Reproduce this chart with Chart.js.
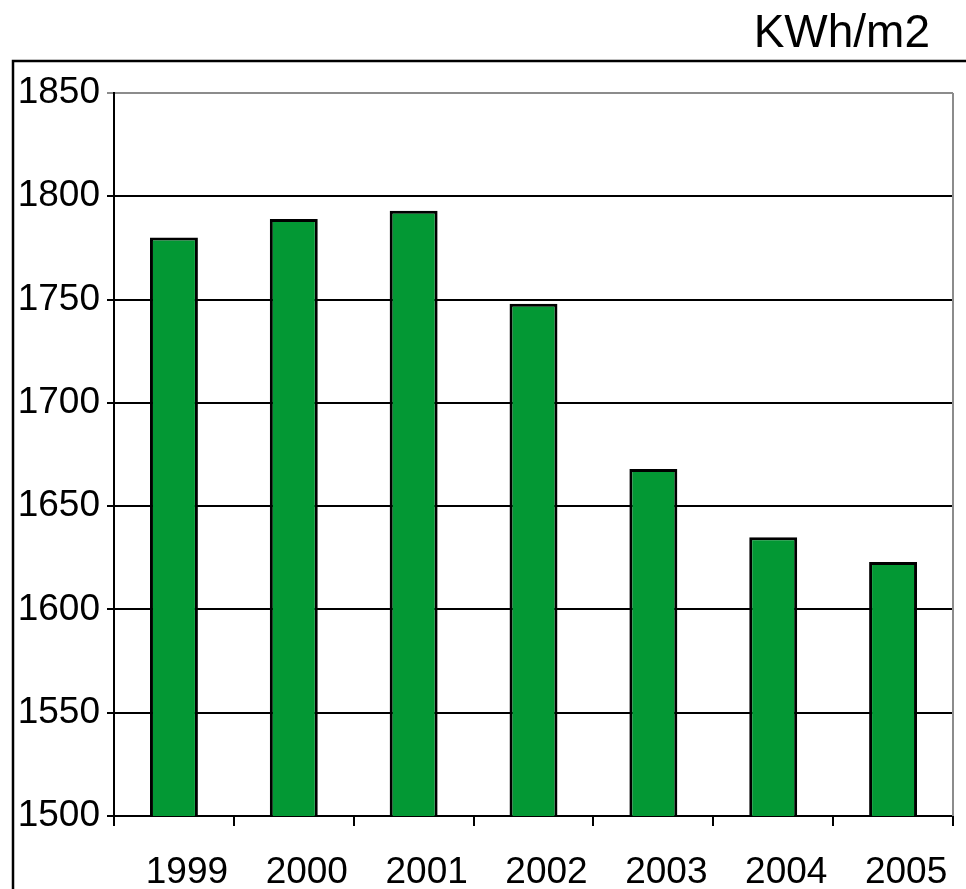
<!DOCTYPE html>
<html>
<head>
<meta charset="utf-8">
<script src="https://cdn.jsdelivr.net/npm/chart.js@4/dist/chart.umd.min.js"></script>
<style>
  html, body { margin: 0; padding: 0; background: #fff; }
  #wrap { width: 966px; height: 889px; }
</style>
</head>
<body>
<div id="wrap"><canvas id="barChart" width="966" height="889"></canvas></div>
<script>
const years = ['1999', '2000', '2001', '2002', '2003', '2004', '2005'];
const irradiation = [1780, 1789, 1793, 1748, 1668, 1635, 1623];
const yTicks = [1500, 1550, 1600, 1650, 1700, 1750, 1800, 1850];
const unitLabel = 'KWh/m2';

const FONT = '"Liberation Sans", Arial, sans-serif';

// outer frame, grey plot border and unit label
const framePlugin = {
    id: 'frame',
    afterDraw(chart) {
        const ctx = chart.ctx;
        const a = chart.chartArea;
        ctx.save();
        ctx.strokeStyle = '#000';
        ctx.lineWidth = 2.5;
        ctx.beginPath();
        ctx.moveTo(966, 61);
        ctx.lineTo(13, 61);
        ctx.lineTo(13, 889);
        ctx.stroke();

        ctx.strokeStyle = '#8c8c8c';
        ctx.lineWidth = 2;
        ctx.beginPath();
        ctx.moveTo(a.right, a.top);
        ctx.lineTo(a.right, a.bottom);
        ctx.stroke();

        ctx.fillStyle = '#000';
        ctx.font = '46px ' + FONT;
        ctx.textAlign = 'right';
        ctx.textBaseline = 'alphabetic';
        ctx.fillText(unitLabel, 930, 47);
        ctx.restore();
    }
};

const barChart_config = {
    type: 'bar',
    data: {
        labels: years,
        datasets: [{
            label: unitLabel,
            data: irradiation,
            backgroundColor: '#039834',
            borderColor: '#000',
            borderWidth: 3,
            borderSkipped: false,
            barPercentage: 0.4,
            categoryPercentage: 1.0
        }]
    },
    options: {
        responsive: false,
        animation: false,
        layout: { padding: { left: 0, right: 13, top: 93, bottom: 0 } },
        plugins: {
            legend: { display: false },
            title: { display: false },
            tooltip: { enabled: false }
        },
        scales: {
            x: {
                afterFit(scale) { scale.height = 73; },
                border: { color: '#000', width: 2 },
                grid: {
                    offset: true,
                    drawOnChartArea: false,
                    drawTicks: true,
                    tickLength: 10,
                    color: '#000',
                    lineWidth: 2
                },
                ticks: {
                    color: '#000',
                    font: { family: FONT, size: 37 },
                    padding: 25,
                    labelOffset: 13,
                    maxRotation: 0
                }
            },
            y: {
                min: 1500,
                max: 1850,
                afterFit(scale) { scale.width = 114; },
                afterBuildTicks(scale) {
                    scale.ticks = yTicks.map(v => ({ value: v }));
                },
                border: { color: '#000', width: 2 },
                grid: {
                    color: c => (c.tick && c.tick.value === 1850) ? '#8c8c8c' : '#000',
                    lineWidth: 2,
                    tickLength: 7,
                    drawTicks: true
                },
                ticks: {
                    color: '#000',
                    font: { family: FONT, size: 37 },
                    padding: 7,
                    callback: v => String(v)
                }
            }
        }
    },
    plugins: [framePlugin]
};

new Chart(document.getElementById('barChart'), barChart_config);
</script>
</body>
</html>
